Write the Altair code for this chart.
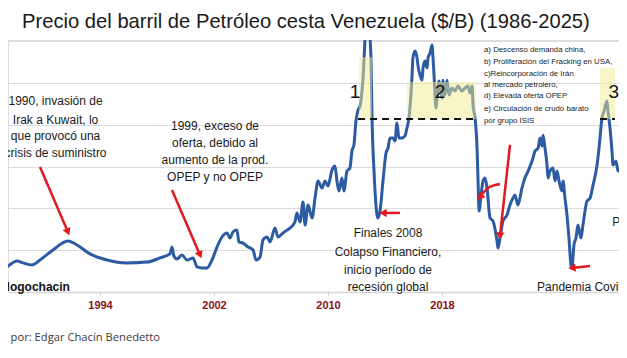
import altair as alt
import pandas as pd

# ---- serie principal (eje x leído según las etiquetas del gráfico) ----
anio = [1986.00, 1986.98, 1987.47, 1988.18, 1988.60, 1989.23, 1989.79, 1990.70, 1991.75, 1992.39,
        1993.30, 1994.49, 1995.89, 1997.30, 1998.21, 1998.91, 1999.05, 1999.19, 1999.40, 1999.75,
        2000.11, 2000.53, 2000.81, 2001.16, 2001.51, 2001.86, 2002.21, 2002.56, 2002.91, 2003.12,
        2003.33, 2003.61, 2003.75, 2004.04, 2004.39, 2004.74, 2004.95, 2005.23, 2005.44, 2005.72,
        2005.93, 2006.28, 2006.49, 2006.84, 2007.12, 2007.33, 2007.68, 2007.82, 2008.04, 2008.25,
        2008.39, 2008.60, 2008.88, 2009.09, 2009.30, 2009.58, 2009.79, 2010.00, 2010.28, 2010.49,
        2010.63, 2010.77, 2010.98, 2011.12, 2011.33, 2011.54, 2011.68, 2011.82, 2011.96, 2012.11,
        2012.25, 2012.46, 2012.67, 2012.88, 2013.02, 2013.09, 2013.23, 2013.44, 2013.51, 2013.65,
        2013.86, 2014.07, 2014.21, 2014.35, 2014.56, 2014.70, 2014.84, 2014.98, 2015.19, 2015.40,
        2015.54, 2015.68, 2015.89, 2015.96, 2016.11, 2016.25, 2016.32, 2016.46, 2016.60, 2016.67,
        2016.81, 2016.95, 2017.02, 2017.16, 2017.30, 2017.37, 2017.44, 2017.58, 2017.65, 2017.79,
        2018.00, 2018.07, 2018.21, 2018.35, 2018.49, 2018.70, 2018.91, 2019.12, 2019.40, 2019.61,
        2019.82, 2019.96, 2020.11, 2020.18, 2020.32, 2020.46, 2020.53, 2020.60, 2020.74, 2020.88,
        2021.02, 2021.16, 2021.37, 2021.58, 2021.86, 2021.93, 2022.07, 2022.28, 2022.56, 2022.77,
        2022.98, 2023.12, 2023.33, 2023.61, 2023.82, 2024.04, 2024.32, 2024.53, 2024.74, 2024.88,
        2025.02, 2025.09, 2025.23, 2025.37, 2025.44, 2025.58, 2025.79, 2025.93, 2026.07, 2026.21,
        2026.42, 2026.49, 2026.63, 2026.77, 2026.91, 2027.05, 2027.12, 2027.26, 2027.40, 2027.54,
        2027.75, 2027.89, 2028.18, 2028.39, 2028.60, 2028.88, 2029.02, 2029.23, 2029.37, 2029.58,
        2029.65, 2029.79, 2029.93, 2030.00, 2030.21, 2030.35, 2030.56, 2030.70, 2030.98, 2031.54]
precio = [8.6, 10.0, 12.0, 14.8, 13.9, 12.9, 15.3, 20.1, 24.4, 22.5,
          18.2, 15.3, 13.9, 14.3, 16.3, 18.2, 21.5, 17.2, 15.8, 17.7,
          15.3, 16.3, 12.0, 11.5, 11.5, 15.3, 21.5, 26.3, 28.2, 25.8,
          28.7, 29.6, 23.9, 23.4, 21.5, 20.1, 15.3, 16.7, 24.9, 26.3,
          23.9, 30.6, 26.3, 28.2, 29.6, 30.6, 33.5, 37.8, 33.5, 43.0,
          32.0, 41.6, 35.4, 44.9, 53.1, 49.7, 53.1, 50.7, 58.3, 60.2,
          53.1, 48.3, 54.5, 48.3, 57.8, 59.3, 67.4, 70.3, 81.7, 87.0,
          88.9, 102.3, 126.2, 125.2, 110.9, 83.2, 57.8, 36.8, 35.4, 38.7,
          53.1, 66.4, 68.8, 73.6, 73.6, 72.2, 80.8, 73.6, 73.6, 74.6,
          78.4, 83.2, 102.3, 111.9, 115.2, 111.9, 108.0, 103.7, 101.3, 107.1,
          110.4, 107.1, 111.9, 114.2, 118.1, 111.9, 103.7, 88.0, 92.7, 100.9,
          92.7, 101.3, 94.2, 101.3, 94.2, 97.5, 96.1, 98.5, 96.1, 97.5,
          98.5, 95.1, 98.5, 89.4, 83.2, 68.8, 53.1, 38.7, 46.4, 53.1,
          54.5, 49.7, 35.4, 33.9, 24.4, 21.0, 25.8, 33.9, 36.8, 41.6,
          44.9, 46.4, 41.6, 49.7, 54.5, 57.8, 62.6, 67.4, 68.8, 73.6,
          69.8, 75.0, 68.8, 60.7, 54.5, 57.8, 59.3, 53.1, 57.8, 53.1,
          48.3, 53.1, 44.9, 36.8, 25.8, 12.9, 11.5, 22.5, 25.8, 32.0,
          25.8, 32.0, 43.5, 44.9, 51.1, 60.7, 68.8, 83.2, 86.5, 91.3,
          86.5, 78.4, 67.4, 60.7, 62.6, 57.8, 60.7, 68.8, 75.0, 87.0]

x_ticks = [1994, 2002, 2010, 2018]
y_grid = [20, 40, 60, 80, 100, 120]

# ---- zonas resaltadas ----
zona_x1 = [2012.18, 2015.54, 2029.09]
zona_x2 = [2013.09, 2020.39, 2030.14]
zona_y1 = [82.7, 82.7, 82.7]
zona_y2 = [112.3, 100.4, 107.1]
guion_x1 = [2012.11, 2029.09]
guion_x2 = [2020.39, 2030.14]
guion_y = [82.7, 82.7]
num_txt = ["1", "2", "3"]
num_x = [2011.89, 2017.86, 2030.05]
num_y = [95.6, 95.6, 95.6]

# ---- textos de anotación centrados ----
nota_txt = ["1990, invasión de", "Irak a Kuwait, lo", "que provocó una", "crisis de suministro",
            "1999, exceso de", "oferta, debido al", "aumento de la prod.", "OPEP y no OPEP",
            "Finales 2008", "Colapso Financiero,", "inicio período de", "recesión global"]
nota_x = [1990.88] * 4 + [2002.07] * 4 + [2014.21] * 4
nota_y = [91.3, 82.2, 74.6, 66.3, 79.4, 71.2, 63.1, 55.0, 28.2, 19.1, 10.5, 2.4]

izq_txt = ["Pandemia Covid-19", "Pa"]
izq_x = [2024.67, 2029.95]
izq_y = [2.4, 33.5]

lista_txt = ["a) Descenso demanda china,", "b) Proliferación del Fracking en USA,",
             "c)Reincorporación de Irán", "al  mercado petrolero,", "d) Elevada oferta OPEP",
             "e) Circulación de crudo barato", " por grupo ISIS"]
lista_x = [2020.95] * 7
lista_y = [115.7, 109.9, 104.2, 98.9, 93.7, 87.5, 81.7]

# ---- flechas ----
flecha_id = [1, 1, 2, 2, 3, 3, 4, 4, 5, 5, 6, 6, 6]
flecha_x = [1989.79, 1991.75, 1999.05, 2001.02, 2015.05, 2013.86, 2028.39, 2027.12,
            2022.77, 2022.07, 2022.07, 2021.23, 2020.67]
flecha_y = [59.8, 28.7, 48.8, 17.7, 37.8, 37.8, 12.4, 11.5, 70.3, 26.8, 51.6, 49.7, 45.4]
punta_x = [1991.75, 2001.02, 2013.86, 2027.12, 2022.07, 2020.67]
punta_y = [28.7, 17.7, 37.8, 11.5, 26.8, 45.4]
punta_ang = [157, 157, 270, 264, 186, 222]

W, H = 611, 252
XD = [1987.544, 2030.421]
YD = [0, 120.5]
SANS = "Liberation Sans, Arial, sans-serif"
ROJO = "#e3191f"

xs = alt.Scale(domain=XD, nice=False, zero=False)
ys = alt.Scale(domain=YD, nice=False, zero=True)

serie = pd.DataFrame({"anio": anio, "precio": precio})
linea = alt.Chart(serie).mark_line(
    color="#2c5ba3", strokeWidth=3, interpolate="monotone", clip=True
).encode(
    x=alt.X("anio:Q", scale=xs, axis=alt.Axis(
        values=x_ticks, format="d", title=None, grid=False,
        domainColor="#d6d6d6", domainWidth=1.5, tickColor="#cfcfcf", tickSize=3,
        labelColor="#8a1212", labelFont=SANS, labelFontWeight="bold",
        labelFontSize=11, labelPadding=4)),
    y=alt.Y("precio:Q", scale=ys, axis=alt.Axis(
        values=y_grid, title=None, labels=False, ticks=False, domain=False,
        gridColor="#dcdcdc", gridWidth=1)),
)

zonas = alt.Chart(pd.DataFrame({"x1": zona_x1, "x2": zona_x2, "y1": zona_y1, "y2": zona_y2})).mark_rect(
    color="#f2ec92", opacity=0.5, clip=True
).encode(x=alt.X("x1:Q", scale=xs), x2="x2:Q", y=alt.Y("y1:Q", scale=ys), y2="y2:Q")

guiones = alt.Chart(pd.DataFrame({"x1": guion_x1, "x2": guion_x2, "y": guion_y})).mark_rule(
    color="#111111", strokeWidth=2, strokeDash=[7, 5], clip=True
).encode(x=alt.X("x1:Q", scale=xs), x2="x2:Q", y=alt.Y("y:Q", scale=ys))

numeros = alt.Chart(pd.DataFrame({"t": num_txt, "x": num_x, "y": num_y})).mark_text(
    font=SANS, fontSize=19, color="#111111", align="center", baseline="middle"
).encode(x=alt.X("x:Q", scale=xs), y=alt.Y("y:Q", scale=ys), text="t:N")

notas = alt.Chart(pd.DataFrame({"t": nota_txt, "x": nota_x, "y": nota_y})).mark_text(
    font=SANS, fontSize=12, color="#1a1a1a", align="center", baseline="middle"
).encode(x=alt.X("x:Q", scale=xs), y=alt.Y("y:Q", scale=ys), text="t:N")

izq = alt.Chart(pd.DataFrame({"t": izq_txt, "x": izq_x, "y": izq_y})).mark_text(
    font=SANS, fontSize=12, color="#1a1a1a", align="left", baseline="middle"
).encode(x=alt.X("x:Q", scale=xs), y=alt.Y("y:Q", scale=ys), text="t:N")

lista = alt.Chart(pd.DataFrame({"t": lista_txt, "x": lista_x, "y": lista_y})).mark_text(
    font=SANS, fontSize=7.8, color="#1a1a1a", align="left", baseline="middle"
).encode(x=alt.X("x:Q", scale=xs), y=alt.Y("y:Q", scale=ys), text="t:N")

firma = alt.Chart(pd.DataFrame({"t": ["ologochacin"], "x": [1991.89], "y": [2.4]})).mark_text(
    font=SANS, fontSize=12, fontWeight="bold", color="#111111", align="right", baseline="middle"
).encode(x=alt.X("x:Q", scale=xs), y=alt.Y("y:Q", scale=ys), text="t:N")

orden = list(range(len(flecha_id)))
flechas = alt.Chart(pd.DataFrame({"id": flecha_id, "x": flecha_x, "y": flecha_y, "o": orden})).mark_line(
    color=ROJO, strokeWidth=2.5, interpolate="monotone"
).encode(x=alt.X("x:Q", scale=xs), y=alt.Y("y:Q", scale=ys), detail="id:N", order="o:Q")

puntas = alt.Chart(pd.DataFrame({"x": punta_x, "y": punta_y, "a": punta_ang})).mark_point(
    shape="triangle-up", filled=True, color=ROJO, size=70, opacity=1
).encode(x=alt.X("x:Q", scale=xs), y=alt.Y("y:Q", scale=ys), angle=alt.Angle("a:Q", scale=None))

titulo = alt.Chart(pd.DataFrame({"t": ["Precio del barril de Petróleo cesta Venezuela ($/B) (1986-2025)"]})).mark_text(
    font=SANS, fontSize=20.2, color="#1a1a1a", align="left", baseline="alphabetic"
).encode(x=alt.value(14), y=alt.value(-12), text="t:N")

pie = alt.Chart(pd.DataFrame({"t": ["Elaborado por: Edgar Chacín Benedetto"]})).mark_text(
    font="Open Sans", fontSize=11.2, color="#3a3a3a", align="right", baseline="middle"
).encode(x=alt.value(152), y=alt.value(298), text="t:N")

chart = alt.layer(
    linea, zonas, guiones, numeros, notas, izq, lista, firma, flechas, puntas, titulo, pie
).properties(
    width=W, height=H,
    autosize=alt.AutoSizeParams(type="none"),
    padding={"left": 0, "top": 32, "right": 0, "bottom": 52},
).configure_view(stroke=None).configure(background="white")

chart.save("out.html", embed_options={"renderer": "svg", "actions": False})
